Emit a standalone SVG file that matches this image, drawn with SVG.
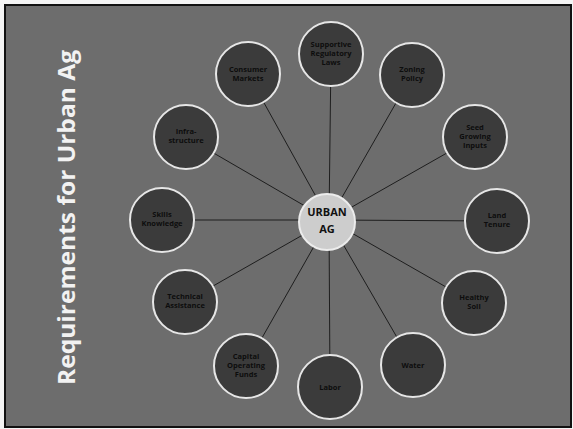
<svg xmlns="http://www.w3.org/2000/svg" width="573" height="429" viewBox="0 0 573 429">
<style>
.node circle{fill:#3b3b3b;stroke:#e6e6e6;stroke-width:2}
.node text{font-family:"Open Sans","Liberation Sans",sans-serif;font-weight:bold;font-size:7.5px;fill:#0d0d0d;text-anchor:middle}
#connectors line{stroke:#1e1e1e;stroke-width:1}
</style>
<rect x="0" y="0" width="573" height="429" fill="#f4f4f4"/>
<rect x="5" y="5" width="566" height="422" fill="#6d6d6d" stroke="#111" stroke-width="2"/>
<text transform="translate(75,385) rotate(-90)" font-family="'Open Sans','Liberation Sans',sans-serif" font-weight="bold" font-size="24" fill="#f2f2f2" textLength="335" lengthAdjust="spacingAndGlyphs">Requirements for Urban Ag</text>
<g id="connectors">
<line x1="329" y1="220" x2="331" y2="54"/>
<line x1="329" y1="220" x2="248" y2="74"/>
<line x1="329" y1="220" x2="412" y2="75"/>
<line x1="329" y1="220" x2="475" y2="137"/>
<line x1="329" y1="220" x2="497" y2="221"/>
<line x1="329" y1="220" x2="474" y2="303"/>
<line x1="329" y1="220" x2="413" y2="365"/>
<line x1="329" y1="220" x2="330" y2="387"/>
<line x1="329" y1="220" x2="246" y2="366"/>
<line x1="329" y1="220" x2="185" y2="302"/>
<line x1="329" y1="220" x2="162" y2="220"/>
<line x1="329" y1="220" x2="186" y2="137"/>
</g>
<g id="n-top" class="node"><circle cx="331" cy="54" r="32"/><text x="331" y="47">Supportive</text><text x="331" y="56">Regulatory</text><text x="331" y="65">Laws</text></g>
<g id="n-markets" class="node"><circle cx="248" cy="74" r="32"/><text x="248" y="72">Consumer</text><text x="248" y="81">Markets</text></g>
<g id="n-zoning" class="node"><circle cx="412" cy="75" r="32"/><text x="412" y="72">Zoning</text><text x="412" y="81">Policy</text></g>
<g id="n-inputs" class="node"><circle cx="475" cy="137" r="32"/><text x="475" y="130">Seed</text><text x="475" y="139">Growing</text><text x="475" y="148">Inputs</text></g>
<g id="n-tenure" class="node"><circle cx="497" cy="221" r="32"/><text x="497" y="218">Land</text><text x="497" y="227">Tenure</text></g>
<g id="n-soil" class="node"><circle cx="474" cy="303" r="32"/><text x="474" y="300">Healthy</text><text x="474" y="309">Soil</text></g>
<g id="n-water" class="node"><circle cx="413" cy="365" r="32"/><text x="413" y="368">Water</text></g>
<g id="n-labor" class="node"><circle cx="330" cy="387" r="32"/><text x="330" y="390">Labor</text></g>
<g id="n-capital" class="node"><circle cx="246" cy="366" r="32"/><text x="246" y="359">Capital</text><text x="246" y="368">Operating</text><text x="246" y="377">Funds</text></g>
<g id="n-tech" class="node"><circle cx="185" cy="302" r="32"/><text x="185" y="299">Technical</text><text x="185" y="308">Assistance</text></g>
<g id="n-skills" class="node"><circle cx="162" cy="220" r="32"/><text x="162" y="217">Skills</text><text x="162" y="226">Knowledge</text></g>
<g id="n-infra" class="node"><circle cx="186" cy="137" r="32"/><text x="186" y="134">Infra-</text><text x="186" y="143">structure</text></g>
<g id="n-center"><circle cx="327" cy="222" r="28" fill="#cdcdcd" stroke="#ececec" stroke-width="2"/><text x="327" y="216" font-family="'Open Sans','Liberation Sans',sans-serif" font-weight="bold" font-size="11" fill="#111" text-anchor="middle">URBAN</text><text x="327" y="233" font-family="'Open Sans','Liberation Sans',sans-serif" font-weight="bold" font-size="11" fill="#111" text-anchor="middle">AG</text></g>
</svg>
